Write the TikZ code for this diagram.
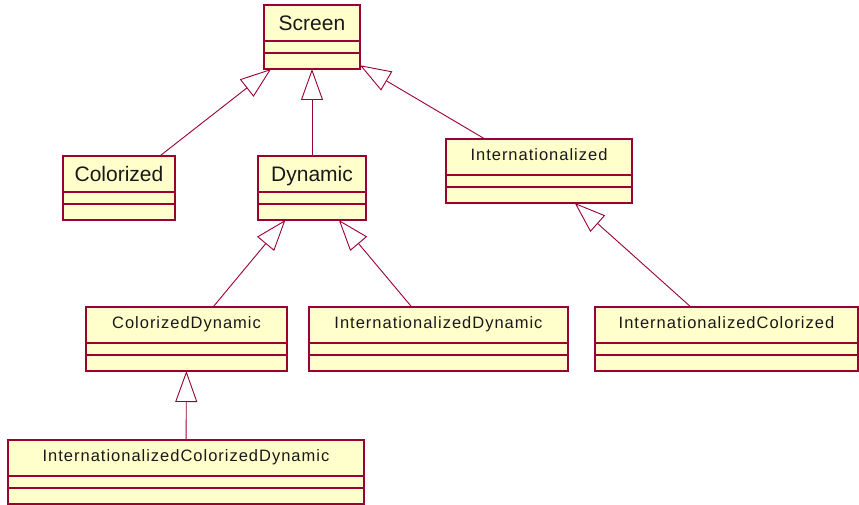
\documentclass[tikz,border=0pt]{standalone}
\usepackage{fontspec}
\setmainfont{Liberation Sans}
\newfontfamily\trackedfont[LetterSpace=6]{Liberation Sans}
\usetikzlibrary{arrows.meta}

\definecolor{umlborder}{RGB}{153,0,51}
\definecolor{umlfill}{RGB}{255,255,204}

\tikzset{
  classbox/.style={draw=umlborder, fill=umlfill, line width=1.1pt,
    inner sep=0pt, outer sep=0pt, minimum height=64pt},
  divider/.style={draw=umlborder, line width=1.1pt},
  bigname/.style={font=\fontsize{21}{25}\selectfont, text=black!90,
    anchor=base, yshift=-25.5pt},
  smallname/.style={font=\trackedfont\fontsize{16.5}{19}\selectfont, text=black!90,
    anchor=base, yshift=-21.5pt},
  inherit/.style={draw=umlborder, line width=0.9pt,
    -{Triangle[length=31pt, width=22pt, fill=white, line join=miter]}},
}

% #1 node name, #2 left, #3 top, #4 right, #5 name style, #6 class name
\newcommand\umlclass[6]{%
  \node[classbox, minimum width={#4-#2}, anchor=north west] (#1) at (#2,#3) {};
  \draw[divider] ([yshift=-36pt]#1.north west) -- ([yshift=-36pt]#1.north east);
  \draw[divider] ([yshift=-48pt]#1.north west) -- ([yshift=-48pt]#1.north east);
  \node[#5] (#1-name) at (#1.north) {#6};
}

\begin{document}
\begin{tikzpicture}[x=1pt, y=-1pt]
  \useasboundingbox (0,0) rectangle (859,505);

  % classes
  \umlclass{screen}{264}{5}{360}{bigname}{Screen}
  \umlclass{colorized}{63}{156}{175}{bigname}{Colorized}
  \umlclass{dynamic}{258}{156}{366}{bigname}{Dynamic}
  \umlclass{intl}{446}{139}{632}{smallname}{Internationalized}
  \umlclass{cdyn}{86}{307}{287}{smallname}{ColorizedDynamic}
  \umlclass{idyn}{309}{307}{568}{smallname}{InternationalizedDynamic}
  \umlclass{icol}{595}{307}{858}{smallname}{InternationalizedColorized}
  \umlclass{icdyn}{8}{440}{364}{smallname}{InternationalizedColorizedDynamic}

  % generalisations
  \draw[inherit] (colorized) -- (screen);
  \draw[inherit] (dynamic) -- (screen);
  \draw[inherit] (intl) -- (screen);
  \draw[inherit] (cdyn) -- (dynamic);
  \draw[inherit] (idyn) -- (dynamic);
  \draw[inherit] (icol) -- (intl);
  \draw[inherit] (icdyn) -- (cdyn);
\end{tikzpicture}
\end{document}
